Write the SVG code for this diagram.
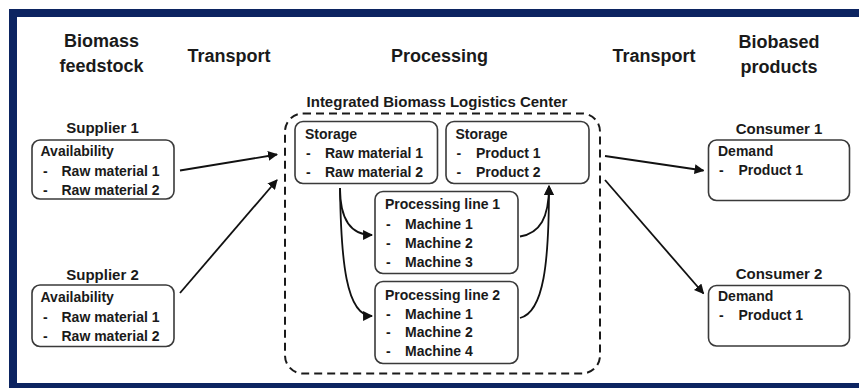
<svg xmlns="http://www.w3.org/2000/svg" width="859" height="388" viewBox="0 0 859 388">
  <style>
    text { font-family: "Liberation Sans", Arial, sans-serif; font-weight: bold; fill: #1a1a1a; }
    .head { font-size: 18px; text-anchor: middle; }
    .title { font-size: 15px; text-anchor: middle; }
    .item { font-size: 14px; }
    .box { fill: #ffffff; stroke: #3a3a3a; stroke-width: 1.6; }
    .wire { fill: none; stroke: #111111; stroke-width: 1.8; }
    .center { fill: none; stroke: #1a1a1a; stroke-width: 2; stroke-dasharray: 8 5; }
  </style>
  <defs>
    <marker id="arrow" viewBox="0 0 10 10" refX="9" refY="5" markerWidth="5.5" markerHeight="5.5" markerUnits="strokeWidth" orient="auto">
      <path d="M0,0 L10,5 L0,10 Z" fill="#111111"/>
    </marker>
  </defs>

  <rect x="0" y="0" width="859" height="388" fill="#ffffff"/>
  <!-- outer frame -->
  <rect x="13" y="13" width="860" height="374" fill="none" stroke="#0c2461" stroke-width="8"/>

  <!-- column headings -->
  <g id="headings">
    <text class="head" x="101.5" y="47">Biomass</text>
    <text class="head" x="101.5" y="72">feedstock</text>
    <text class="head" x="229" y="62">Transport</text>
    <text class="head" x="439.5" y="62">Processing</text>
    <text class="head" x="654" y="62">Transport</text>
    <text class="head" x="779" y="48">Biobased</text>
    <text class="head" x="779" y="73">products</text>
  </g>

  <!-- integrated logistics center -->
  <g id="iblc">
    <text class="title" x="437" y="107">Integrated Biomass Logistics Center</text>
    <rect class="center" x="285" y="113.5" width="315" height="260" rx="18"/>
  </g>

  <g id="supplier1">
    <text class="title" x="102.5" y="133">Supplier 1</text>
    <rect class="box" x="32" y="140" width="142" height="59" rx="8"/>
    <text class="item" x="40.5" y="156">Availability</text>
    <text class="item" x="43" y="175.5">-</text>
    <text class="item" x="61.5" y="175.5">Raw material 1</text>
    <text class="item" x="43" y="194.5">-</text>
    <text class="item" x="61.5" y="194.5">Raw material 2</text>
  </g>

  <g id="supplier2">
    <text class="title" x="102.5" y="280">Supplier 2</text>
    <rect class="box" x="32" y="285" width="142" height="61.5" rx="8"/>
    <text class="item" x="40.5" y="302">Availability</text>
    <text class="item" x="43" y="321.5">-</text>
    <text class="item" x="61.5" y="321.5">Raw material 1</text>
    <text class="item" x="43" y="341">-</text>
    <text class="item" x="61.5" y="341">Raw material 2</text>
  </g>

  <g id="storage-raw">
    <rect class="box" x="295" y="121.5" width="142.5" height="62" rx="8"/>
    <text class="item" x="305" y="139">Storage</text>
    <text class="item" x="306" y="157.5">-</text>
    <text class="item" x="325" y="157.5">Raw material 1</text>
    <text class="item" x="306" y="176.5">-</text>
    <text class="item" x="325" y="176.5">Raw material 2</text>
  </g>

  <g id="storage-product">
    <rect class="box" x="446" y="121.5" width="143" height="62" rx="8"/>
    <text class="item" x="455.5" y="139">Storage</text>
    <text class="item" x="456.5" y="157.5">-</text>
    <text class="item" x="476" y="157.5">Product 1</text>
    <text class="item" x="456.5" y="176.5">-</text>
    <text class="item" x="476" y="176.5">Product 2</text>
  </g>

  <g id="line1">
    <rect class="box" x="375" y="191.5" width="143" height="82" rx="8"/>
    <text class="item" x="385" y="209">Processing line 1</text>
    <text class="item" x="386" y="228.5">-</text>
    <text class="item" x="405" y="228.5">Machine 1</text>
    <text class="item" x="386" y="247.5">-</text>
    <text class="item" x="405" y="247.5">Machine 2</text>
    <text class="item" x="386" y="266.5">-</text>
    <text class="item" x="405" y="266.5">Machine 3</text>
  </g>

  <g id="line2">
    <rect class="box" x="375" y="281.5" width="143" height="82" rx="8"/>
    <text class="item" x="385" y="300">Processing line 2</text>
    <text class="item" x="386" y="318.5">-</text>
    <text class="item" x="405" y="318.5">Machine 1</text>
    <text class="item" x="386" y="337">-</text>
    <text class="item" x="405" y="337">Machine 2</text>
    <text class="item" x="386" y="356">-</text>
    <text class="item" x="405" y="356">Machine 4</text>
  </g>

  <g id="consumer1">
    <text class="title" x="779" y="133.5">Consumer 1</text>
    <rect class="box" x="708.5" y="140" width="141" height="60.5" rx="8"/>
    <text class="item" x="718" y="155.5">Demand</text>
    <text class="item" x="719" y="175">-</text>
    <text class="item" x="738.5" y="175">Product 1</text>
  </g>

  <g id="consumer2">
    <text class="title" x="779" y="279">Consumer 2</text>
    <rect class="box" x="708.5" y="285.5" width="141" height="60.5" rx="8"/>
    <text class="item" x="718" y="300.5">Demand</text>
    <text class="item" x="719" y="320">-</text>
    <text class="item" x="738.5" y="320">Product 1</text>
  </g>

  <g id="connectors">
    <path class="wire" d="M180,170.5 L277,154.5" marker-end="url(#arrow)"/>
    <path class="wire" d="M180,293 L277,180" marker-end="url(#arrow)"/>
    <path class="wire" d="M340,188 C340,215 348,235 372,235" marker-end="url(#arrow)"/>
    <path class="wire" d="M340,188 C341,260 346,316 372,316" marker-end="url(#arrow)"/>
    <path class="wire" d="M520,236.5 C540,233 549,218 549,186" marker-end="url(#arrow)"/>
    <path class="wire" d="M520,318 C544,312 549,262 549,186" marker-end="url(#arrow)"/>
    <path class="wire" d="M605,156 L703.5,170.5" marker-end="url(#arrow)"/>
    <path class="wire" d="M605,180 L703.5,293.5" marker-end="url(#arrow)"/>
  </g>
</svg>
